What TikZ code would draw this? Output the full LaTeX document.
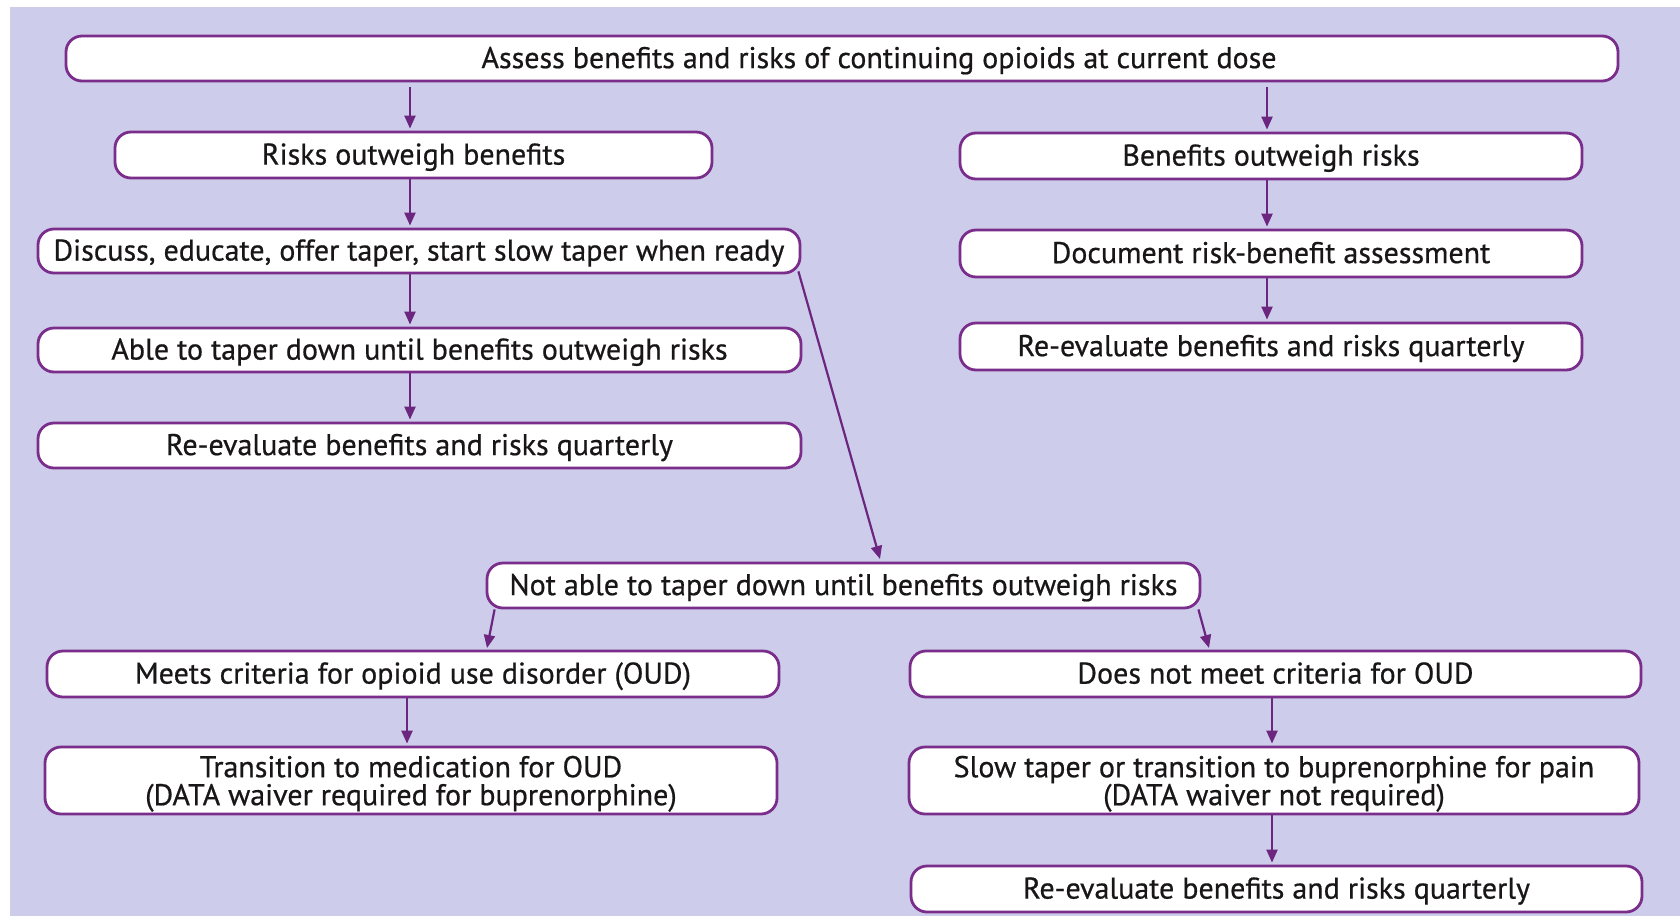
\documentclass[tikz,border=0pt]{standalone}
\usepackage{fontspec}
\setmainfont{PT Sans}[FakeBold=0.6]
\usetikzlibrary{arrows.meta,calc}
\definecolor{bgc}{RGB}{205,205,235}
\definecolor{edge}{RGB}{122,45,138}
\definecolor{arrc}{RGB}{108,38,128}
\definecolor{txt}{RGB}{25,22,24}
\begin{document}
\begin{tikzpicture}[x=0.5pt,y=-0.5pt,
  box/.style={draw=edge, line width=1.4pt, fill=white, rounded corners=8pt, inner sep=0pt,
    text=txt, font=\fontsize{15}{14}\selectfont, align=center, text height=1.0em, text depth=0.04em},
  box2/.style={draw=edge, line width=1.4pt, fill=white, rounded corners=8pt, inner sep=0pt,
    text=txt, font=\fontsize{15}{14}\selectfont, align=center, text depth=0pt},
  lbl/.style={text=txt, font=\fontsize{15}{14}\selectfont, inner sep=0pt, text height=1.0em, text depth=0.04em},
  arr/.style={draw=arrc, line width=1.1pt, -{Stealth[length=6.5pt,width=5.5pt,inset=0pt]}}
]
\useasboundingbox (0,0) rectangle (1680,916);
\fill[bgc] (10,7) rectangle (1680,916);

% nodes
\node[box, minimum width=776pt, minimum height=22.5pt] (top) at (842,58.5) {};
\node[lbl] (toptext) at (879,58.5) {Assess benefits and risks of continuing opioids at current dose};

\node[box, minimum width=298.5pt, minimum height=23pt] (risks) at (413.5,155) {Risks outweigh benefits};
\node[box, minimum width=381pt, minimum height=22pt] (discuss) at (419,251) {Discuss, educate, offer taper, start slow taper when ready};
\node[box, minimum width=381.5pt, minimum height=22pt] (able) at (419.5,350) {Able to taper down until benefits outweigh risks};
\node[box, minimum width=381.5pt, minimum height=22.5pt] (reevalL) at (419.5,445.5) {Re-evaluate benefits and risks quarterly};

\node[box, minimum width=311pt, minimum height=23pt] (benefits) at (1271,156) {Benefits outweigh risks};
\node[box, minimum width=311pt, minimum height=23.5pt] (document) at (1271,253.5) {Document risk-benefit assessment};
\node[box, minimum width=311pt, minimum height=23.5pt] (reevalR) at (1271,346.5) {Re-evaluate benefits and risks quarterly};

\node[box, minimum width=356.5pt, minimum height=22.5pt] (notable) at (843.5,585.5) {Not able to taper down until benefits outweigh risks};

\node[box, minimum width=366pt, minimum height=23pt] (meets) at (413,674) {Meets criteria for opioid use disorder (OUD)};
\node[box2, minimum width=366pt, minimum height=33.5pt] (transition) at (411,780.5) {Transition to medication for OUD\\(DATA waiver required for buprenorphine)};

\node[box, minimum width=365.5pt, minimum height=23pt] (doesnot) at (1275.5,674) {Does not meet criteria for OUD};
\node[box2, minimum width=365pt, minimum height=33.5pt] (slow) at (1274,780.5) {Slow taper or transition to buprenorphine for pain\\(DATA waiver not required)};
\node[box, minimum width=365.5pt, minimum height=23pt] (reevalB) at (1276.5,889) {Re-evaluate benefits and risks quarterly};

% column x positions
\coordinate (xl) at (410,0);
\coordinate (xr) at (1267,0);
\coordinate (xbl) at (407,0);
\coordinate (xbr) at (1272,0);

% connectors
\draw[arr] ([yshift=-2.5pt]top.south -| xl) -- ([yshift=1pt]risks.north -| xl);
\draw[arr] (risks.south -| xl) -- ([yshift=1pt]discuss.north -| xl);
\draw[arr] (discuss.south -| xl) -- ([yshift=1pt]able.north -| xl);
\draw[arr] (able.south -| xl) -- ([yshift=1pt]reevalL.north -| xl);

\draw[arr] ([yshift=-2.5pt]top.south -| xr) -- ([yshift=1pt]benefits.north -| xr);
\draw[arr] (benefits.south -| xr) -- ([yshift=1pt]document.north -| xr);
\draw[arr] (document.south -| xr) -- ([yshift=1pt]reevalR.north -| xr);

\coordinate (dtip) at (880,559);
\draw[arr] ([xshift=-1.5pt,yshift=1.5pt]discuss.south east) -- (dtip);

\coordinate (mtip) at (487,648);
\coordinate (ntip) at (1209,648);
\draw[arr] ([xshift=4.5pt]notable.south west) -- (mtip);
\draw[arr] ([xshift=-1.5pt]notable.south east) -- (ntip);

\draw[arr] (meets.south -| xbl) -- ([yshift=1pt]transition.north -| xbl);
\draw[arr] (doesnot.south -| xbr) -- ([yshift=1pt]slow.north -| xbr);
\draw[arr] (slow.south -| xbr) -- ([yshift=1pt]reevalB.north -| xbr);
\end{tikzpicture}
\end{document}
